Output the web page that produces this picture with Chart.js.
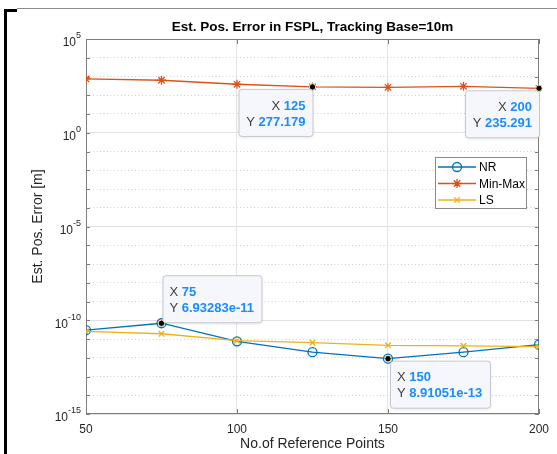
<!DOCTYPE html>
<html>
<head>
<meta charset="utf-8">
<script src="https://cdn.jsdelivr.net/npm/chart.js@4.4.1/dist/chart.umd.min.js"></script>
<style>
  html, body { margin: 0; padding: 0; background: #fff; }
  canvas { display: block; }
</style>
</head>
<body>
<canvas id="grafico" width="557" height="454"></canvas>
<script>
// valores
const referencePoints = [50, 75, 100, 125, 150, 175, 200];
const nrError = [2.97e-11, 6.93283e-11, 7.5e-12, 1.98e-12, 8.91051e-13, 1.98e-12, 5.0e-12];
const minMaxError = [742, 630, 385, 277.179, 266, 300, 235.291];
const lsError = [2.52e-11, 1.9e-11, 8.1e-12, 6.4e-12, 4.6e-12, 4.3e-12, 3.9e-12];
const xTicks = [50, 100, 150, 200];
const yExponents = [-15, -14, -13, -12, -11, -10, -9, -8, -7, -6, -5, -4, -3, -2, -1, 0, 1, 2, 3, 4, 5];
const yLabelExponents = [-15, -10, -5, 0, 5];

// datatips: dataset, indice do ponto, canto do box
const datatips = [
  { ds: 0, idx: 1, anchor: 'bottom-left' },
  { ds: 0, idx: 4, anchor: 'top-left' },
  { ds: 1, idx: 3, anchor: 'top-right' },
  { ds: 1, idx: 6, anchor: 'top-right' }
];

const FONT = '"Liberation Sans", Arial, Helvetica, sans-serif';
const AXIS_COLOR = '#7d7d7d';
const TEXT_COLOR = '#262626';

const toPoints = (ys) => referencePoints.map((x, i) => ({ x: x, y: ys[i] }));
const expOf = (v) => Math.round(Math.log10(v));

function fmtY(v) {
  let s = Number(v).toPrecision(6);
  if (s.indexOf('e') >= 0) {
    let [m, e] = s.split('e');
    if (m.indexOf('.') >= 0) m = m.replace(/0+$/, '').replace(/\.$/, '');
    return m + 'e' + e;
  }
  if (s.indexOf('.') >= 0) s = s.replace(/0+$/, '').replace(/\.$/, '');
  return s;
}

function drawMarker(c, style, x, y, r, color, lw) {
  c.save();
  c.strokeStyle = color;
  c.lineWidth = lw;
  c.beginPath();
  if (style === 'circle') {
    c.arc(x, y, r, 0, Math.PI * 2);
  } else if (style === 'crossRot') {
    const d = r * Math.SQRT1_2;
    c.moveTo(x - d, y - d); c.lineTo(x + d, y + d);
    c.moveTo(x + d, y - d); c.lineTo(x - d, y + d);
  } else if (style === 'star') {
    for (let a = 0; a < 4; a++) {
      const ang = a * Math.PI / 4;
      c.moveTo(x - r * Math.cos(ang), y - r * Math.sin(ang));
      c.lineTo(x + r * Math.cos(ang), y + r * Math.sin(ang));
    }
  }
  c.stroke();
  c.restore();
}

function roundRect(c, x, y, w, h, r) {
  c.beginPath();
  c.moveTo(x + r, y);
  c.lineTo(x + w - r, y); c.quadraticCurveTo(x + w, y, x + w, y + r);
  c.lineTo(x + w, y + h - r); c.quadraticCurveTo(x + w, y + h, x + w - r, y + h);
  c.lineTo(x + r, y + h); c.quadraticCurveTo(x, y + h, x, y + h - r);
  c.lineTo(x, y + r); c.quadraticCurveTo(x, y, x + r, y);
  c.closePath();
}

const decorPlugin = {
  id: 'decor',
  beforeDraw(chart) {
    const c = chart.ctx;
    c.save();
    c.fillStyle = '#fff';
    c.fillRect(0, 0, chart.width, chart.height);
    // borda da janela recortada
    c.fillStyle = '#8c8c8c';
    c.fillRect(17, 8, chart.width - 17, 1);
    c.fillStyle = '#000';
    c.fillRect(4, 9, 13, 3);
    c.fillRect(4, 9, 3, chart.height - 9);
    c.restore();
  },
  beforeDatasetsDraw(chart) {
    const c = chart.ctx;
    const a = chart.chartArea;
    const xs = chart.scales.x, ys = chart.scales.y;
    c.save();
    c.strokeStyle = AXIS_COLOR;
    c.lineWidth = 1;
    c.strokeRect(a.left + 0.5, a.top + 0.5, a.right - a.left - 1, a.bottom - a.top - 1);
    c.beginPath();
    for (const v of xTicks) {
      const px = Math.round(xs.getPixelForValue(v)) + 0.5;
      c.moveTo(px, a.bottom); c.lineTo(px, a.bottom - 5);
      c.moveTo(px, a.top); c.lineTo(px, a.top + 5);
    }
    for (const e of yExponents) {
      const py = Math.round(ys.getPixelForValue(Math.pow(10, e))) + 0.5;
      c.moveTo(a.left, py); c.lineTo(a.left + 4, py);
      c.moveTo(a.right, py); c.lineTo(a.right - 4, py);
    }
    c.stroke();
    c.restore();
  },
  afterDatasetsDraw(chart) {
    const c = chart.ctx;

    // legenda
    const lx = 435, ly = 157, lw = 91, lh = 51;
    c.save();
    c.fillStyle = '#fff';
    c.fillRect(lx, ly, lw, lh);
    c.strokeStyle = '#8a8a8a';
    c.lineWidth = 1;
    c.strokeRect(lx + 0.5, ly + 0.5, lw, lh);
    chart.data.datasets.forEach((d, i) => {
      const yy = ly + 10 + i * 16.5;
      c.strokeStyle = d.borderColor;
      c.lineWidth = 1.3;
      c.beginPath(); c.moveTo(lx + 3, yy); c.lineTo(lx + 41, yy); c.stroke();
      drawMarker(c, d.pointStyle, lx + 22, yy, d.pointRadius, d.borderColor, 1.3);
      c.fillStyle = '#000';
      c.font = '12px ' + FONT;
      c.textAlign = 'left';
      c.textBaseline = 'middle';
      c.fillText(d.label, lx + 44, yy + 1);
    });
    c.restore();

    // datatips
    for (const t of datatips) {
      const el = chart.getDatasetMeta(t.ds).data[t.idx];
      const px = el.x, py = el.y;
      c.save();
      c.fillStyle = '#000';
      c.strokeStyle = '#f3e6a6';
      c.lineWidth = 1;
      c.beginPath(); c.arc(px, py, 3.2, 0, Math.PI * 2); c.fill(); c.stroke();

      const pt = chart.data.datasets[t.ds].data[t.idx];
      const xs = String(pt.x), ysTxt = fmtY(pt.y);
      c.font = '13px ' + FONT;
      const wX = c.measureText('X ').width, wY = c.measureText('Y ').width;
      c.font = 'bold 13px ' + FONT;
      const vX = c.measureText(xs).width, vY = c.measureText(ysTxt).width;
      const w = Math.ceil(Math.max(wX + vX, wY + vY) + 14), h = 47;
      let bx, by;
      if (t.anchor === 'bottom-left') { bx = px + 1; by = py - 1 - h; }
      else if (t.anchor === 'top-left') { bx = px + 2; by = py + 2; }
      else { bx = px - w; by = py + 2; }
      c.shadowColor = 'rgba(0,0,0,0.12)';
      c.shadowBlur = 3;
      c.shadowOffsetY = 1;
      roundRect(c, bx + 0.5, by + 0.5, w, h, 3);
      c.fillStyle = '#f5f7fc';
      c.fill();
      c.shadowColor = 'transparent';
      c.strokeStyle = '#c6c9cf';
      c.stroke();

      const rows = [['X ', xs, wX, vX, by + 17], ['Y ', ysTxt, wY, vY, by + 33]];
      c.textBaseline = 'middle';
      for (const [lab, val, wl, wv, yy] of rows) {
        let sx = (t.anchor === 'top-right') ? bx + w - 7 - wl - wv : bx + 7;
        c.textAlign = 'left';
        c.font = '13px ' + FONT;
        c.fillStyle = '#404040';
        c.fillText(lab, sx, yy);
        c.font = 'bold 13px ' + FONT;
        c.fillStyle = '#1a8cff';
        c.fillText(val, sx + wl, yy);
      }
      c.restore();
    }
  },
  afterDraw(chart) {
    const c = chart.ctx;
    const a = chart.chartArea;
    const ys = chart.scales.y;
    c.save();
    // titulo
    c.fillStyle = '#000';
    c.font = 'bold 13.5px ' + FONT;
    c.textAlign = 'center';
    c.textBaseline = 'middle';
    c.fillText('Est. Pos. Error in FSPL, Tracking Base=10m', (a.left + a.right) / 2, 27);
    // titulo eixo x
    c.fillStyle = TEXT_COLOR;
    c.font = '14px ' + FONT;
    c.fillText('No.of Reference Points', (a.left + a.right) / 2, 444);
    // titulo eixo y
    c.save();
    c.translate(38, (a.top + a.bottom) / 2);
    c.rotate(-Math.PI / 2);
    c.fillText('Est. Pos. Error [m]', 0, 0);
    c.restore();
    // rotulos 10^n
    for (const e of yLabelExponents) {
      const py = ys.getPixelForValue(Math.pow(10, e));
      const sup = String(e);
      c.font = '9px ' + FONT;
      const wSup = c.measureText(sup).width;
      c.font = '12px ' + FONT;
      const wBase = c.measureText('10').width;
      const right = a.left - 5;
      c.textAlign = 'left';
      c.fillText('10', right - wSup - wBase, py + 4);
      c.font = '9px ' + FONT;
      c.fillText(sup, right - wSup, py - 3);
    }
    c.restore();
  }
};

const grafico = new Chart(document.getElementById('grafico'), {
  type: 'line',
  data: {
    datasets: [
      {
        label: 'NR',
        data: toPoints(nrError),
        borderColor: '#0072BD',
        backgroundColor: 'rgba(0,0,0,0)',
        pointStyle: 'circle',
        pointRadius: 4.5,
        pointHoverRadius: 4.5,
        pointBorderWidth: 1.3,
        borderWidth: 1.3,
        order: 3
      },
      {
        label: 'Min-Max',
        data: toPoints(minMaxError),
        borderColor: '#D95319',
        backgroundColor: 'rgba(0,0,0,0)',
        pointStyle: 'star',
        pointRadius: 4.5,
        pointHoverRadius: 4.5,
        pointBorderWidth: 1.3,
        borderWidth: 1.3,
        order: 2
      },
      {
        label: 'LS',
        data: toPoints(lsError),
        borderColor: '#EDB120',
        backgroundColor: 'rgba(0,0,0,0)',
        pointStyle: 'crossRot',
        pointRadius: 4,
        pointHoverRadius: 4,
        pointBorderWidth: 1.3,
        borderWidth: 1.3,
        order: 1
      }
    ]
  },
  options: {
    responsive: false,
    animation: false,
    events: [],
    layout: { padding: { left: 0, right: 14, top: 39, bottom: 0 } },
    plugins: {
      legend: { display: false },
      title: { display: false },
      tooltip: { enabled: false }
    },
    scales: {
      x: {
        type: 'linear',
        min: 50,
        max: 200,
        bounds: 'data',
        afterBuildTicks: (s) => { s.ticks = xTicks.map(v => ({ value: v })); },
        afterFit: (s) => { s.height = 40; },
        ticks: {
          color: TEXT_COLOR,
          font: { family: FONT, size: 12 },
          padding: 8,
          maxRotation: 0,
          callback: (v) => String(v)
        },
        grid: { color: '#e4e4e4', lineWidth: 1, drawTicks: false },
        border: { display: false }
      },
      y: {
        type: 'logarithmic',
        min: 1e-15,
        max: 1e5,
        bounds: 'data',
        afterBuildTicks: (s) => { s.ticks = yExponents.map(e => ({ value: Math.pow(10, e) })); },
        afterFit: (s) => { s.width = 86; },
        ticks: { display: false },
        grid: {
          drawTicks: false,
          lineWidth: 1,
          color: (ctx) => (ctx.tick && expOf(ctx.tick.value) % 5 === 0) ? '#e2e2e2' : '#cfcfcf'
        },
        border: {
          display: false,
          dash: (ctx) => (ctx.tick && expOf(ctx.tick.value) % 5 !== 0) ? [1, 2.5] : []
        }
      }
    }
  },
  plugins: [decorPlugin]
});
</script>
</body>
</html>
